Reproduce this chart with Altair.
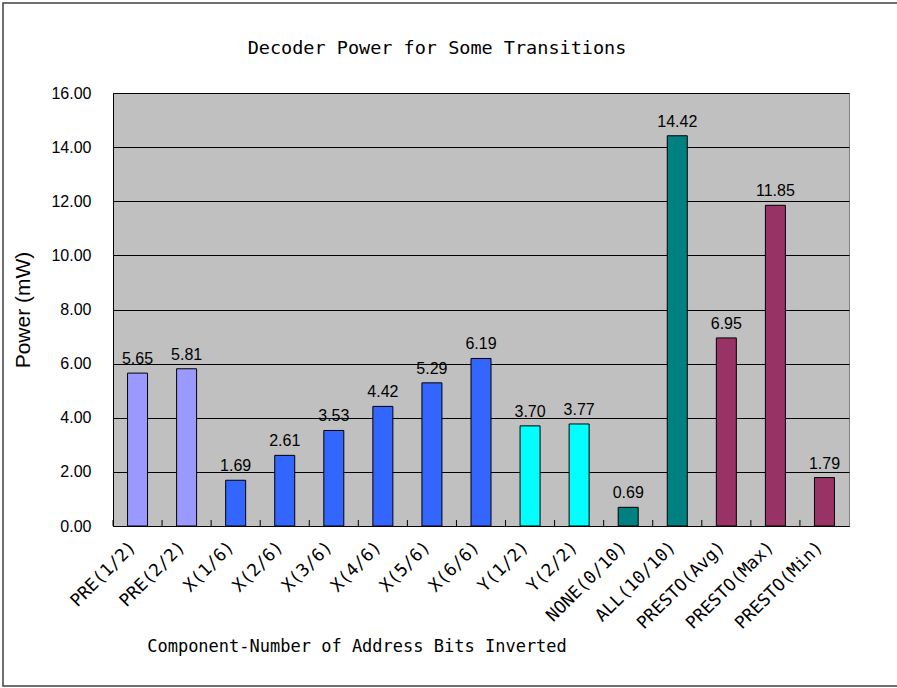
import altair as alt
import pandas as pd

categories = ["PRE(1/2)", "PRE(2/2)", "X(1/6)", "X(2/6)", "X(3/6)", "X(4/6)", "X(5/6)", "X(6/6)",
              "Y(1/2)", "Y(2/2)", "NONE(0/10)", "ALL(10/10)", "PRESTO(Avg)", "PRESTO(Max)", "PRESTO(Min)"]
values = [5.65, 5.81, 1.69, 2.61, 3.53, 4.42, 5.29, 6.19, 3.70, 3.77, 0.69, 14.42, 6.95, 11.85, 1.79]
colors = ["#9999FF", "#9999FF", "#3366FF", "#3366FF", "#3366FF", "#3366FF", "#3366FF", "#3366FF",
          "#00FFFF", "#00FFFF", "#008080", "#008080", "#993366", "#993366", "#993366"]
y_ticks = [0, 2, 4, 6, 8, 10, 12, 14, 16]

title_text = "Decoder Power for Some Transitions"
x_title = "Component-Number of Address Bits Inverted"
y_title = "Power (mW)"

df = pd.DataFrame({"cat": categories, "val": values})

W, H = 736, 433
xscale = alt.Scale(domain=categories, paddingInner=0, paddingOuter=0)
yscale = alt.Scale(domain=[0, 16], nice=False)

base = alt.Chart(df)

bars = base.mark_bar(size=20, stroke="black", strokeWidth=1).encode(
    x=alt.X("cat:N", scale=xscale, sort=categories,
            axis=alt.Axis(title=None, labelAngle=-45, labelAlign="right", labelBaseline="middle",
                          labelFontSize=17.5, labelFont="DejaVu Sans Mono", labelColor="black",
                          labelPadding=18, labelOffset=-4, ticks=False, domain=True,
                          domainColor="black", labelLimit=300)),
    y=alt.Y("val:Q", scale=yscale,
            axis=alt.Axis(title=None, values=y_ticks, format=".2f", grid=True, gridColor="black",
                          gridWidth=1, ticks=False, labelPadding=22, labelFontSize=16,
                          labelFont="Liberation Sans", labelColor="black",
                          domainColor="black")),
    color=alt.Color("cat:N", scale=alt.Scale(domain=categories, range=colors), legend=None),
)

labels = base.mark_text(baseline="alphabetic", dy=-9, fontSize=16, font="Liberation Sans", color="black").encode(
    x=alt.X("cat:N", scale=xscale, sort=categories),
    y=alt.Y("val:Q", scale=yscale),
    text=alt.Text("val:Q", format=".2f"),
)

ticks = base.mark_rule(color="black", strokeWidth=1).encode(
    x=alt.X("cat:N", scale=xscale, sort=categories, bandPosition=0),
    y=alt.value(H - 6),
    y2=alt.value(H),
)

one = pd.DataFrame({"t": [0]})
title = alt.Chart(one).mark_text(text=title_text, font="DejaVu Sans Mono", fontSize=18.5,
                                 color="black", align="center", baseline="middle").encode(
    x=alt.value(437 - 113), y=alt.value(48 - 93))
xt = alt.Chart(one).mark_text(text=x_title, font="DejaVu Sans Mono", fontSize=17,
                              color="black", align="center", baseline="middle").encode(
    x=alt.value(357 - 113), y=alt.value(647 - 93))
yt = alt.Chart(one).mark_text(text=y_title, font="Liberation Sans", fontSize=21, angle=270,
                              color="black", align="center", baseline="middle").encode(
    x=alt.value(24 - 113), y=alt.value(310 - 93))
border = alt.Chart(one).mark_rect(fill=None, stroke="#404040", strokeWidth=1.5).encode(
    x=alt.value(3 - 113), x2=alt.value(905 - 113), y=alt.value(3 - 93), y2=alt.value(686 - 93))

chart = alt.layer(bars, ticks, labels, title, xt, yt, border).properties(
    width=W, height=H,
    autosize=alt.AutoSizeParams(type="none"),
    padding={"left": 113, "top": 93, "right": 897 - 113 - W, "bottom": 688 - 93 - H},
    background="white",
).configure_view(fill="#C0C0C0", stroke="#808080", strokeWidth=1)

chart.save("out.html", embed_options={"renderer": "svg", "actions": False})
